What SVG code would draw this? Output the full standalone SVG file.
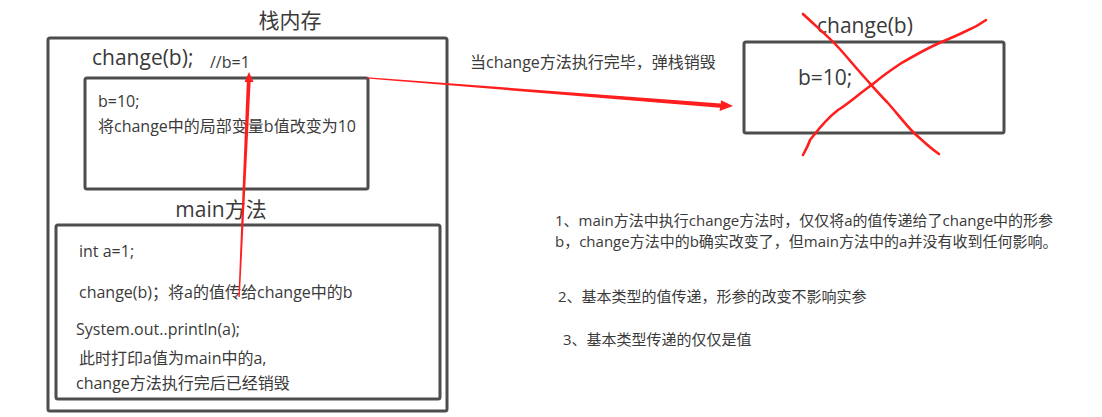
<svg xmlns="http://www.w3.org/2000/svg" width="1102" height="417" viewBox="0 0 1102 417">
<style>
.box{fill:none;stroke:#4d4d4d;stroke-width:3}
text{font-family:"Open Sans","Noto Sans CJK SC",sans-serif;fill:#3a3a3a}
.t20{font-size:21px}
.t16{font-size:16px}
.t15{font-size:15px}
.red{fill:#ff1e1e}
.x{fill:none;stroke:#ff1e1e;stroke-width:2.6;stroke-linecap:round;stroke-linejoin:round}
</style>
<rect width="1102" height="417" fill="#fff"/>
<g id="stack">
<rect class="box" x="48" y="38" width="399" height="373" rx="2"/>
<text class="t20" x="290" y="28" text-anchor="middle">栈内存</text>
</g>
<g id="change-frame">
<text class="t20" x="92" y="65">change(b);</text>
<text class="t16" x="210" y="68">//b=1</text>
<rect class="box" x="85" y="78" width="283" height="111" rx="2"/>
<text class="t16" x="98" y="107">b=10;</text>
<text class="t16" x="98" y="132">将change中的局部变量b值改变为10</text>
</g>
<g id="main-frame">
<text class="t20" x="221" y="217" text-anchor="middle">main方法</text>
<rect class="box" x="56" y="225" width="384" height="174" rx="2"/>
<text class="t16" x="79" y="257">int a=1;</text>
<text class="t16" x="79" y="298">change(b)；将a的值传给change中的b</text>
<text class="t16" x="76" y="335">System.out..println(a);</text>
<text class="t16" x="79" y="364">此时打印a值为main中的a,</text>
<text class="t16" x="76" y="389">change方法执行完后已经销毁</text>
</g>
<g id="destroyed-frame">
<text class="t20" x="817" y="33">change(b)</text>
<rect class="box" x="744" y="42" width="260" height="91" rx="2"/>
<text class="t20" x="798" y="85">b=10;</text>
</g>
<g id="notes">
<text class="t16" x="470" y="68">当change方法执行完毕，弹栈销毁</text>
<text class="t15" x="555" y="226">1、main方法中执行change方法时，仅仅将a的值传递给了change中的形参</text>
<text class="t15" x="555" y="247">b，change方法中的b确实改变了，但main方法中的a并没有收到任何影响。</text>
<text class="t15" x="558" y="302">2、基本类型的值传递，形参的改变不影响实参</text>
<text class="t15" x="563" y="345">3、基本类型传递的仅仅是值</text>
</g>
<g id="connectors">
<path class="red" d="M238.4,297 L239.8,297 L250.6,82 L253.5,82 L249,72 L244.6,82 L246.8,82 Z"/>
<path class="red" d="M367,77.3 L367,78.5 L720,107.8 L719.6,111 L733,106 L721,100.2 L720.8,103.4 Z"/>
<path class="x" d="M803,14 C818,28 832,40 838,47 C848,58 856,68 866,79 C874,88 880,95 887,102 C897,113 904,123 914,133 C922,140 930,148 939,154"/>
<path class="x" d="M986,20 C975,28 968,30 962,33 C952,38 945,40 935,45 C922,51 912,57 900,64 C888,72 880,78 873,84 C860,93 848,104 838,110 C825,120 818,130 810,140 C808,146 805,151 803,155"/>
</g>
</svg>
